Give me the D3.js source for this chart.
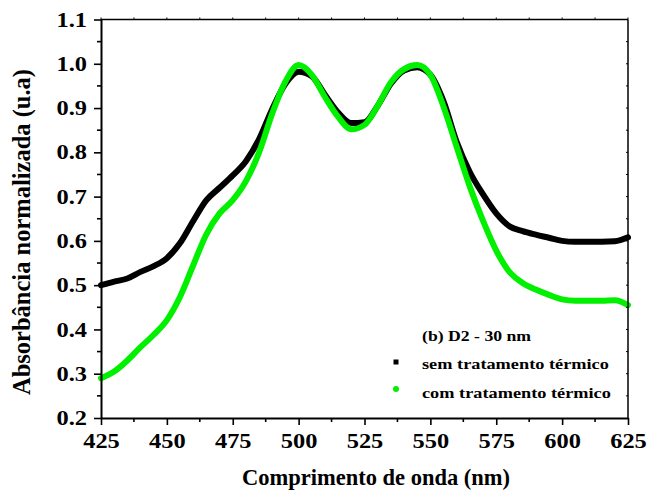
<!DOCTYPE html>
<html>
<head>
<meta charset="utf-8">
<script src="https://cdn.jsdelivr.net/npm/d3@7"></script>
<style>
  html, body { margin: 0; padding: 0; background: #fff; }
  svg { display: block; }
</style>
</head>
<body>
<svg id="chart" width="651" height="498"></svg>
<script>
// ---- data ----
const wavelengths = [425,430,435,440,445,450,455,460,465,470,475,480,485,490,495,500,505,510,515,520,525,530,535,540,545,550,555,560,565,570,575,580,585,590,595,600,605,610,615,620,625];
const semTratamento = [0.500,0.508,0.515,0.530,0.543,0.561,0.595,0.645,0.692,0.720,0.748,0.780,0.830,0.898,0.955,0.982,0.972,0.930,0.890,0.866,0.868,0.905,0.955,0.985,0.992,0.975,0.915,0.823,0.755,0.705,0.662,0.633,0.622,0.614,0.607,0.600,0.598,0.598,0.598,0.599,0.608];
const comTratamento = [0.290,0.305,0.330,0.360,0.388,0.421,0.474,0.545,0.615,0.662,0.692,0.735,0.800,0.888,0.960,0.997,0.975,0.925,0.880,0.852,0.862,0.905,0.958,0.988,0.997,0.975,0.903,0.812,0.722,0.645,0.578,0.530,0.505,0.490,0.478,0.468,0.465,0.465,0.465,0.466,0.455];
const seriesNames = ["sem tratamento térmico", "com tratamento térmico"];
const legendTitle = "(b) D2 - 30 nm";
const xTicks = [425,450,475,500,525,550,575,600,625];
const yTicks = [0.2,0.3,0.4,0.5,0.6,0.7,0.8,0.9,1.0,1.1];
const xTitle = "Comprimento de onda (nm)";
const yTitle = "Absorbância normalizada (u.a)";

// ---- layout ----
const FONT = "Liberation Serif";
const svg = d3.select("#chart");
const L = 101, R = 628, T = 19.5, B = 418;
const SX = 1.22; // horizontal glyph stretch seen in the reference

const x = d3.scaleLinear().domain([425, 625]).range([L, R]);
const y = d3.scaleLinear().domain([0.2, 1.1]).range([B, T]);

const xMinor = d3.range(425, 625.01, 12.5).filter(v => !xTicks.includes(v));
const yMinor = d3.range(0.25, 1.1, 0.1).map(v => +v.toFixed(2));

// curves
const line = d3.line().x(d => x(d[0])).y(d => y(d[1])).curve(d3.curveMonotoneX);
const blackData = wavelengths.map((w, i) => [w, semTratamento[i]]);
const greenData = wavelengths.map((w, i) => [w, comTratamento[i]]);

const plot = svg.append("g");
plot.append("path").datum(blackData).attr("d", line)
  .attr("fill", "none").attr("stroke", "#000").attr("stroke-width", 6)
  .attr("stroke-linecap", "round").attr("stroke-linejoin", "round");
plot.append("path").datum(greenData).attr("d", line)
  .attr("fill", "none").attr("stroke", "#00f000").attr("stroke-width", 6)
  .attr("stroke-linecap", "round").attr("stroke-linejoin", "round");

// ---- axes ----
// bottom
const gx = svg.append("g").attr("transform", `translate(0,${B})`)
  .call(d3.axisBottom(x).tickValues(xTicks).tickSize(7).tickSizeOuter(0).tickFormat(d3.format("d")));
gx.attr("font-family", FONT);
gx.select(".domain").attr("stroke-width", 2);
gx.selectAll(".tick line").attr("stroke-width", 1.6);
gx.selectAll(".tick text").attr("font-size", 20).attr("font-family", FONT).attr("font-weight", "bold")
  .attr("fill", "#000").attr("y", 0).attr("dy", 0)
  .attr("transform", `translate(0,30) scale(${SX},1)`);
gx.selectAll(".minor").data(xMinor).enter().append("line")
  .attr("x1", d => x(d)).attr("x2", d => x(d)).attr("y1", 0).attr("y2", 4)
  .attr("stroke", "#000").attr("stroke-width", 1.6);

// left
const gy = svg.append("g").attr("transform", `translate(${L},0)`)
  .call(d3.axisLeft(y).tickValues(yTicks).tickSize(7).tickSizeOuter(0).tickFormat(d3.format(".1f")));
gy.attr("font-family", FONT);
gy.select(".domain").attr("stroke-width", 2);
gy.selectAll(".tick line").attr("stroke-width", 1.6);
gy.selectAll(".tick text").attr("font-size", 20).attr("font-family", FONT).attr("font-weight", "bold")
  .attr("fill", "#000").attr("x", 0).attr("dy", "0.33em")
  .attr("transform", `translate(-14,0) scale(${SX},1)`);
gy.selectAll(".minor").data(yMinor).enter().append("line")
  .attr("y1", d => y(d)).attr("y2", d => y(d)).attr("x1", 0).attr("x2", -4)
  .attr("stroke", "#000").attr("stroke-width", 1.6);

// top & right frame
svg.append("line").attr("x1", L).attr("x2", R).attr("y1", T).attr("y2", T)
  .attr("stroke", "#000").attr("stroke-width", 1.5);
svg.append("line").attr("x1", R).attr("x2", R).attr("y1", T).attr("y2", B)
  .attr("stroke", "#000").attr("stroke-width", 1.5);
svg.append("g").selectAll("line").data(d3.range(425, 625.01, 12.5)).enter().append("line")
  .attr("x1", d => x(d)).attr("x2", d => x(d)).attr("y1", T).attr("y2", T - 2)
  .attr("stroke", "#000").attr("stroke-width", 1);
svg.append("g").selectAll("line").data(d3.range(0.25, 1.1, 0.05)).enter().append("line")
  .attr("y1", d => y(d)).attr("y2", d => y(d)).attr("x1", R).attr("x2", R - 2)
  .attr("stroke", "#000").attr("stroke-width", 1);

// titles
svg.append("text").attr("x", 376).attr("y", 485).attr("text-anchor", "middle")
  .attr("font-family", FONT).attr("font-weight", "bold")
  .attr("font-size", 22.5).text(xTitle);
svg.append("text").attr("transform", "translate(30,232) rotate(-90)").attr("text-anchor", "middle")
  .attr("font-family", FONT).attr("font-weight", "bold")
  .attr("font-size", 24.5).text(yTitle);

// legend
const lg = svg.append("g").attr("font-family", FONT).attr("font-weight", "bold");
lg.append("text").attr("transform", `translate(422,341) scale(1.18,1)`).attr("font-family", FONT).attr("font-size", 15).text(legendTitle);
lg.append("rect").attr("x", 393.5).attr("y", 359.5).attr("width", 5).attr("height", 5).attr("fill", "#000");
lg.append("text").attr("transform", `translate(422,369) scale(${SX},1)`).attr("font-family", FONT).attr("font-size", 15).text(seriesNames[0]);
lg.append("circle").attr("cx", 396).attr("cy", 389).attr("r", 3).attr("fill", "#00f000");
lg.append("text").attr("transform", `translate(422,397.5) scale(${SX},1)`).attr("font-family", FONT).attr("font-size", 15).text(seriesNames[1]);
</script>
</body>
</html>
